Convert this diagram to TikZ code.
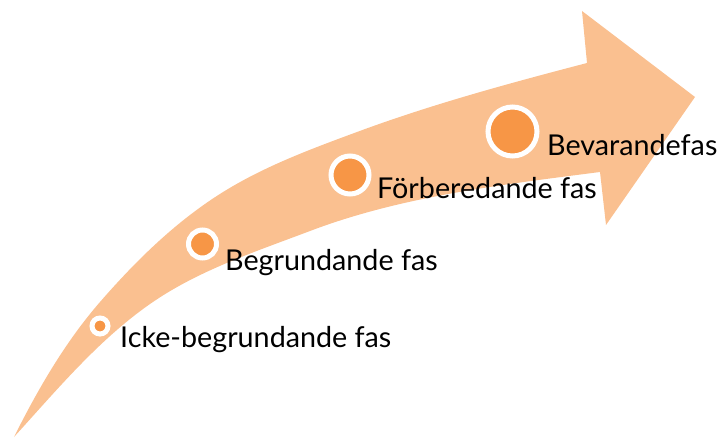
\documentclass[tikz,border=0pt]{standalone}
\usepackage{fontspec}
\setmainfont{Lato}
\definecolor{arrowfill}{HTML}{FAC090}
\definecolor{dotfill}{HTML}{F79646}
\begin{document}
\begin{tikzpicture}[x=1pt,y=-1pt,
  dot/.style={circle,fill=dotfill,draw=white,line width=5pt,inner sep=0pt},
  lbl/.style={anchor=base west,inner sep=0pt,font=\fontsize{28.7}{32}\selectfont,text=black}]
\useasboundingbox (0,0) rectangle (717,438);
\fill[arrowfill] (14,437)
  .. controls (37.7,389.6) and (65.2,342) .. (100,302)
  .. controls (137.4,259) and (179.1,218.3) .. (228,189)
  .. controls (268.3,164.8) and (312.9,148.3) .. (357,132)
  .. controls (432,104.2) and (509.6,83.2) .. (587,63)
  -- (582,11) -- (695,97) -- (606,225) -- (600,172)
  .. controls (502.1,184.7) and (402.3,196) .. (310,231)
  .. controls (255.2,251.8) and (198,270.4) .. (150,304)
  .. controls (98.1,340.3) and (56.7,390.1) .. (14,437)
  -- cycle;
\node[dot,minimum size=16pt] (c1) at (100,326) {};
\node[dot,minimum size=28pt] (c2) at (202.5,244) {};
\node[dot,minimum size=38pt] (c3) at (350,175) {};
\node[dot,minimum size=49pt] (c4) at (512.5,131.5) {};
\node[lbl] (t1) at (120,347) {Icke-begrundande fas};
\node[lbl] (t2) at (225,270) {Begrundande fas};
\node[lbl] (t3) at (377,199) {Förberedande fas};
\node[lbl] (t4) at (547,156) {Bevarandefas};
\end{tikzpicture}
\end{document}
